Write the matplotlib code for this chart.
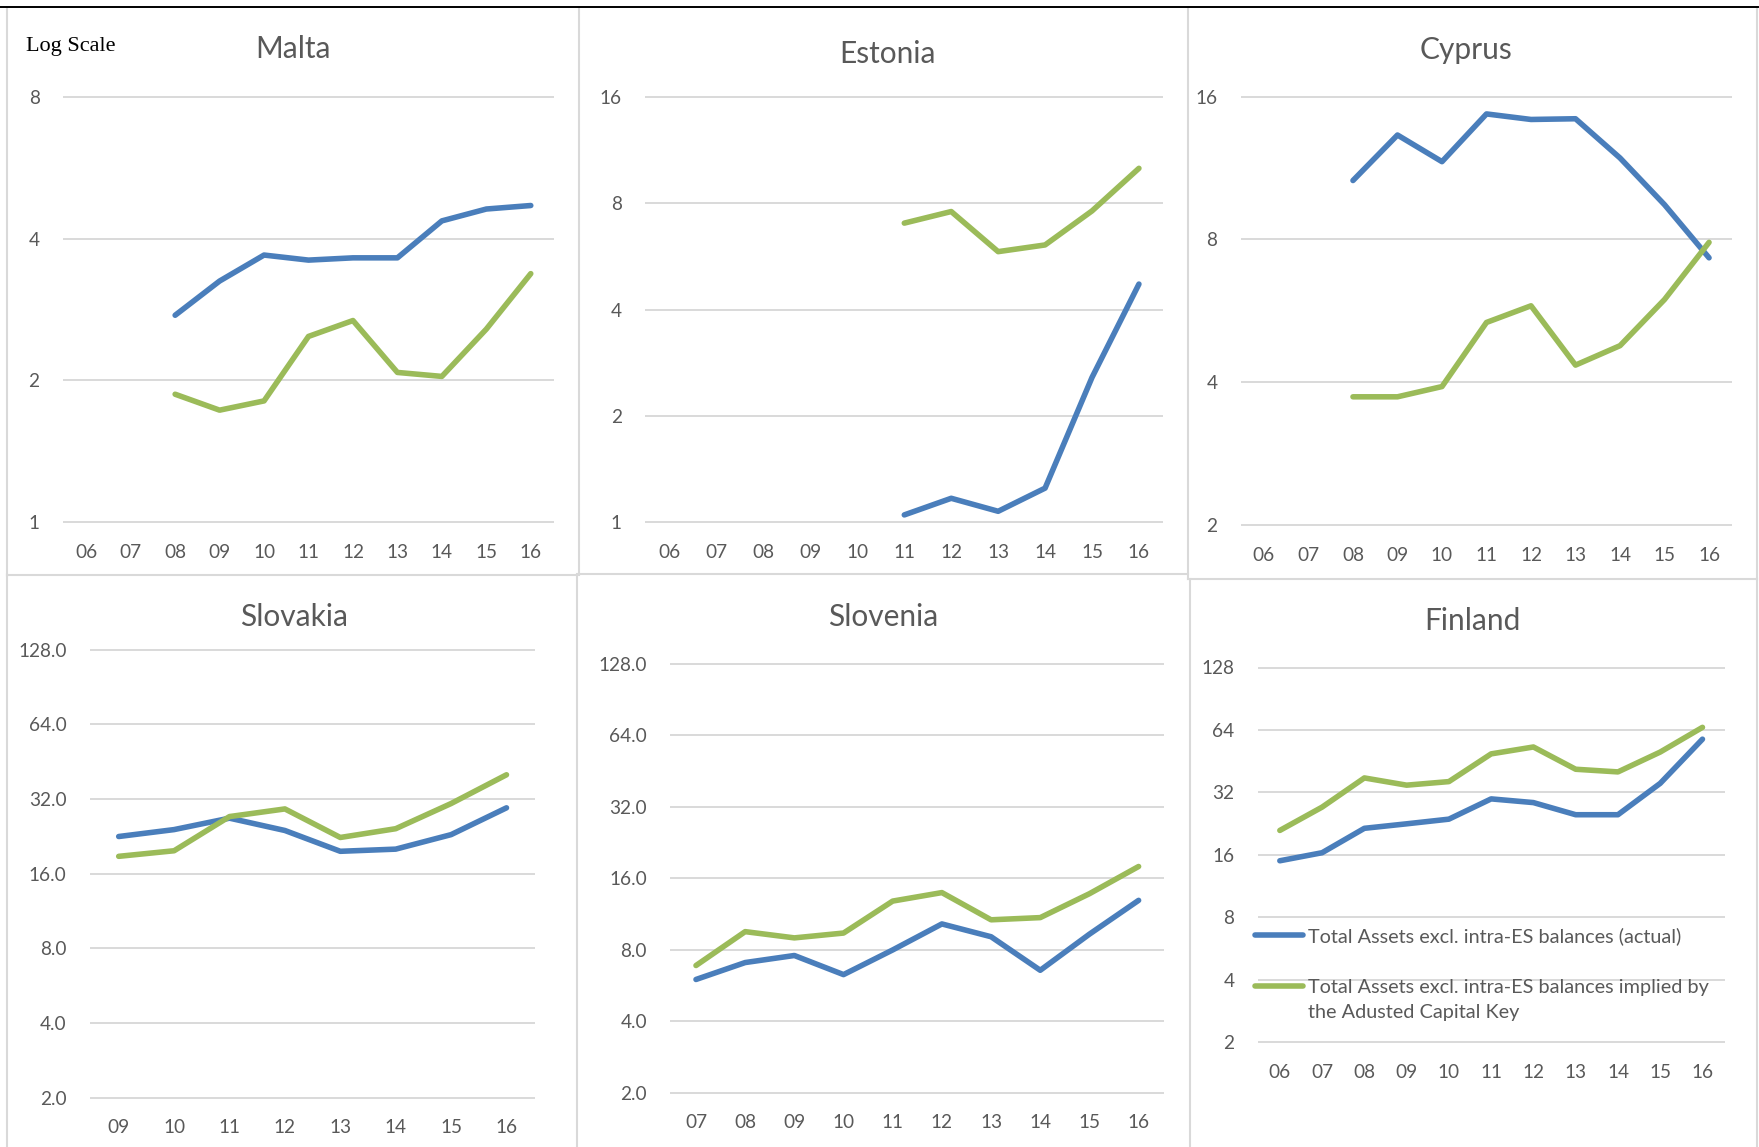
import numpy as np
import matplotlib
matplotlib.use("Agg")
import matplotlib.pyplot as plt
from matplotlib.lines import Line2D

# ---------------------------------------------------------------------------
# Data (log-scale, values per year)
# ---------------------------------------------------------------------------
nan = np.nan
years_06_16 = ["06", "07", "08", "09", "10", "11", "12", "13", "14", "15", "16"]
years_09_16 = ["09", "10", "11", "12", "13", "14", "15", "16"]
years_07_16 = ["07", "08", "09", "10", "11", "12", "13", "14", "15", "16"]

malta_actual = [nan, nan, 2.75, 3.25, 3.69, 3.60, 3.64, 3.64, 4.36, 4.62, 4.70]
malta_key = [nan, nan, 1.87, 1.73, 1.81, 2.48, 2.68, 2.08, 2.04, 2.57, 3.37]

estonia_actual = [nan, nan, nan, nan, nan, 1.05, 1.17, 1.075, 1.25, 2.57, 4.72]
estonia_key = [nan, nan, nan, nan, nan, 7.02, 7.57, 5.83, 6.09, 7.60, 10.03]

cyprus_actual = [nan, nan, 10.65, 13.28, 11.67, 14.71, 14.32, 14.37, 11.88, 9.47, 7.32]
cyprus_key = [nan, nan, 3.73, 3.73, 3.92, 5.35, 5.80, 4.35, 4.78, 5.98, 7.89]

slovakia_actual = [22.6, 24.1, 26.8, 23.9, 19.7, 20.1, 23.0, 29.5]
slovakia_key = [18.8, 19.8, 27.2, 29.2, 22.4, 24.3, 30.7, 40.1]

slovenia_actual = [6.0, 7.07, 7.57, 6.29, 7.99, 10.28, 9.08, 6.56, 9.31, 12.92]
slovenia_key = [6.87, 9.54, 8.98, 9.41, 12.83, 13.93, 10.70, 10.93, 13.78, 17.94]

finland_actual = [15.0, 16.4, 21.5, 22.6, 23.8, 29.8, 28.6, 25.0, 25.0, 35.4, 57.8]
finland_key = [21.0, 27.2, 37.6, 34.7, 36.1, 49.1, 53.0, 41.4, 40.2, 50.1, 65.9]

label_actual = "Total Assets excl. intra-ES balances (actual)"
label_key = ("Total Assets excl. intra-ES balances implied by\n"
             "the Adusted Capital Key")

# ---------------------------------------------------------------------------
# Styling
# ---------------------------------------------------------------------------
W, H = 1759, 1147
DPI = 100
BLUE = "#4a7ebb"
GREEN = "#9bbb59"
GRID = "#d9d9d9"
TEXT = "#595959"
FONT = "Lato"
LW = 4.0

plt.rcParams["font.family"] = [FONT, "DejaVu Sans"]

fig = plt.figure(figsize=(W / DPI, H / DPI), dpi=DPI, facecolor="white")


def fx(px):
    return px / W


def fy(py):
    return 1 - py / H


def add_panel_axes(x0, y0, x1, y1):
    return fig.add_axes([fx(x0), fy(y1), fx(x1 - x0), (y1 - y0) / H])


def draw_panel(ax, title, title_xy, cats, actual, key, ticks, tick_fmt):
    n = len(cats)
    x = np.arange(n)
    ax.plot(x, actual, color=BLUE, lw=LW, solid_capstyle="round",
            solid_joinstyle="round", label=label_actual, zorder=3)
    ax.plot(x, key, color=GREEN, lw=LW, solid_capstyle="round",
            solid_joinstyle="round", label=label_key, zorder=3)
    ax.set_yscale("log", base=2)
    ax.set_ylim(ticks[0], ticks[-1])
    ax.set_xlim(-0.5, n - 0.5)
    ax.set_yticks(ticks)
    ax.set_yticklabels([tick_fmt.format(t) for t in ticks])
    ax.yaxis.set_minor_locator(matplotlib.ticker.NullLocator())
    ax.set_xticks(x)
    ax.set_xticklabels(cats)
    for t in ticks:
        ax.axhline(t, color=GRID, lw=1.4, zorder=1, clip_on=False)
    for s in ax.spines.values():
        s.set_visible(False)
    ax.tick_params(axis="both", length=0, labelsize=13.7, labelcolor=TEXT)
    ax.tick_params(axis="y", pad=17.6)
    ax.tick_params(axis="x", pad=15.5)
    ax.patch.set_alpha(0)
    fig.text(fx(title_xy[0]), fy(title_xy[1]), title, ha="center",
             va="baseline", fontsize=21.5, color=TEXT)


# Panel frames
def hline(x0, x1, y, color=GRID, lw=1.5):
    fig.add_artist(Line2D([fx(x0), fx(x1)], [fy(y), fy(y)], color=color,
                          lw=lw, transform=fig.transFigure))


def vline(x, y0, y1, color=GRID, lw=1.5):
    fig.add_artist(Line2D([fx(x), fx(x)], [fy(y0), fy(y1)], color=color,
                          lw=lw, transform=fig.transFigure))


# top row frames
vline(7, 8, 575)
vline(579, 8, 574)
vline(1188, 8, 579)
vline(1757, 8, 579)
hline(7, 579, 575)
hline(579, 1188, 574)
hline(1188, 1757, 579)
# bottom row frames
vline(7, 575, 1147)
vline(577, 574, 1147)
vline(1190, 579, 1147)
vline(1757, 579, 1147)
# heavy rule along the top
hline(0, 1758, 6.5, color="black", lw=1.4)

# ---------------------------------------------------------------------------
# Panels
# ---------------------------------------------------------------------------
ax = add_panel_axes(64, 96.6, 553, 522.4)
draw_panel(ax, "Malta", (293.5, 58.5), years_06_16, malta_actual, malta_key,
           [1, 2, 4, 8], "{:g}")
fig.text(fx(25.6), fy(51.1), "Log Scale", ha="left", va="baseline",
         fontsize=16, color="black",
         family=["Liberation Serif", "DejaVu Serif"])

ax = add_panel_axes(646.2, 96.6, 1162.4, 522.4)
draw_panel(ax, "Estonia", (888, 62.9), years_06_16, estonia_actual,
           estonia_key, [1, 2, 4, 8, 16], "{:g}")

ax = add_panel_axes(1241.7, 96.6, 1731.3, 525.3)
draw_panel(ax, "Cyprus", (1466.2, 59.2), years_06_16, cyprus_actual,
           cyprus_key, [2, 4, 8, 16], "{:g}")

ax = add_panel_axes(91, 649.8, 534.2, 1097.6)
draw_panel(ax, "Slovakia", (293.6, 626.3), years_09_16, slovakia_actual,
           slovakia_key, [2, 4, 8, 16, 32, 64, 128], "{:.1f}")

ax = add_panel_axes(671.4, 663.8, 1163.2, 1092.8)
draw_panel(ax, "Slovenia", (883.1, 626.3), years_07_16, slovenia_actual,
           slovenia_key, [2, 4, 8, 16, 32, 64, 128], "{:.1f}")

ax = add_panel_axes(1258.7, 667.5, 1723.6, 1042.4)
draw_panel(ax, "Finland", (1472.5, 629.6), years_06_16, finland_actual,
           finland_key, [2, 4, 8, 16, 32, 64, 128], "{:g}")

leg = ax.legend(loc="upper left", bbox_to_anchor=(fx(1254.5), fy(927.4)),
                bbox_transform=fig.transFigure, frameon=False, fontsize=14.3,
                handlelength=2.45, handletextpad=0.23, borderpad=0,
                borderaxespad=0, labelspacing=1.7, labelcolor=TEXT)
for t in leg.texts:
    t.set_linespacing(1.54)
for h in leg.legend_handles:
    h.set_linewidth(LW)
    h.set_solid_capstyle("round")
# second entry's handle sits level with the first line of its label
fig.canvas.draw()
h2 = leg.legend_handles[1]
h2.set_ydata(np.asarray(h2.get_ydata()) + 9.65)

fig.savefig("out.png", dpi=DPI, facecolor="white")
